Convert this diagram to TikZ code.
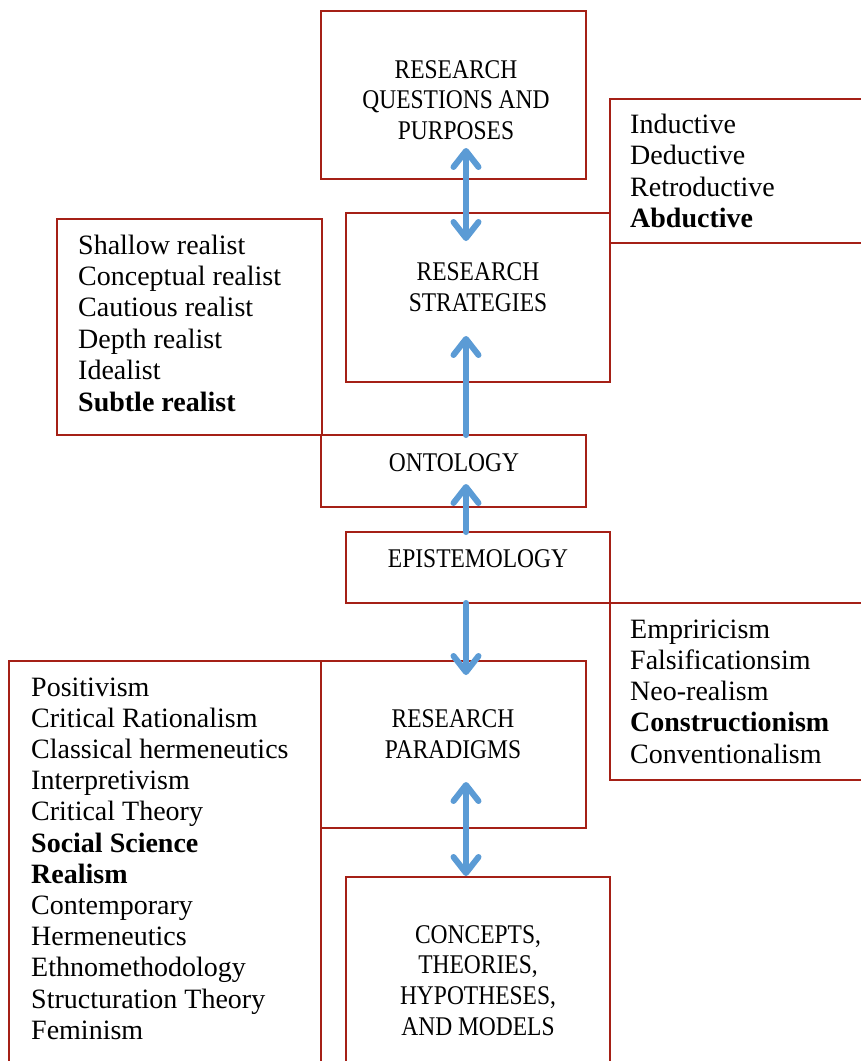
\documentclass[tikz,border=0pt]{standalone}
\usepackage{fontspec}
\setmainfont{Liberation Serif}
\newfontfamily\headfont[FakeStretch=0.87]{Liberation Serif}
\usetikzlibrary{arrows.meta}
\definecolor{boxred}{RGB}{165,32,22}
\definecolor{arrowblue}{RGB}{91,155,213}

\begin{document}
\begin{tikzpicture}[x=1pt,y=-1pt,
  box/.style={draw=boxred, line width=1.3pt, inner sep=0pt, outer sep=0pt, anchor=north west},
  head/.style={inner sep=0pt, anchor=base, font=\headfont\fontsize{27}{31}\selectfont},
  item/.style={inner sep=0pt, anchor=base west, font=\fontsize{28}{31}\selectfont},
  barb/.tip={Straight Barb[length=16pt, width=25pt, line cap=round, line join=round]},
  link/.style={line width=6pt, draw=arrowblue, line cap=round},
  oneway/.style={link, -barb},
  twoway/.style={link, barb-barb}]
\useasboundingbox (0,0) rectangle (861,1061);
\clip (0,0) rectangle (861,1061);

% boxes
\node[box, minimum width=265pt, minimum height=168pt] (rqp) at (321,11) {};
\node[box, minimum width=265pt, minimum height=144pt] (ind) at (610,99) {};
\node[box, minimum width=264pt, minimum height=169pt] (rs) at (346,213) {};
\node[box, minimum width=265pt, minimum height=216pt] (sr) at (57,219) {};
\node[box, minimum width=265pt, minimum height=72pt] (ont) at (321,435) {};
\node[box, minimum width=264pt, minimum height=71pt] (epi) at (346,532) {};
\node[box, minimum width=265pt, minimum height=177pt] (emp) at (610,603) {};
\node[box, minimum width=265pt, minimum height=167pt] (rp) at (321,661) {};
\node[box, minimum width=312pt, minimum height=420pt] (pos) at (9,661) {};
\node[box, minimum width=264pt, minimum height=200pt] (cth) at (346,877) {};

% headings
\foreach \t [count=\i from 0] in {RESEARCH, QUESTIONS AND, PURPOSES}
  \node[head] (rqp-\i) at (456,78+30.5*\i) {\t};
\foreach \t [count=\i from 0] in {RESEARCH, STRATEGIES}
  \node[head] (rs-\i) at (478,280+31*\i) {\t};
\node[head] (ont-0) at (454,471) {ONTOLOGY};
\node[head] (epi-0) at (478,567) {EPISTEMOLOGY};
\foreach \t [count=\i from 0] in {RESEARCH, PARADIGMS}
  \node[head] (rp-\i) at (453,727+31*\i) {\t};
\foreach \t [count=\i from 0] in {CONCEPTS{,}, THEORIES{,}, HYPOTHESES{,}, AND MODELS}
  \node[head] (cth-\i) at (478,943+30.7*\i) {\t};

% lists
\foreach \t [count=\i from 0] in {Inductive, Deductive, Retroductive, \textbf{Abductive}}
  \node[item] (ind-\i) at (630,133+31.6*\i) {\t};
\foreach \t [count=\i from 0] in {Shallow realist, Conceptual realist, Cautious realist,
    Depth realist, Idealist, \textbf{Subtle realist}}
  \node[item] (sr-\i) at (78,254+31.4*\i) {\t};
\foreach \t [count=\i from 0] in {Empriricism, Falsificationsim, Neo-realism,
    \textbf{Constructionism}, Conventionalism}
  \node[item] (emp-\i) at (630,638+31.25*\i) {\t};
\foreach \t [count=\i from 0] in {Positivism, Critical Rationalism, Classical hermeneutics,
    Interpretivism, Critical Theory, \textbf{Social Science}, \textbf{Realism},
    Contemporary, Hermeneutics, Ethnomethodology, Structuration Theory, Feminism}
  \node[item] (pos-\i) at (31,696+31.2*\i) {\t};

% arrow ends
\coordinate (a1top) at (466,148);
\coordinate (a1bot) at (466,241);
\coordinate (a2from) at (ont.north -| a1top);
\coordinate (a2tip) at (466,336);
\coordinate (a3from) at (epi.north -| a1top);
\coordinate (a3tip) at (466,484);
\coordinate (a4from) at (epi.south -| a1top);
\coordinate (a4tip) at (466,675);
\coordinate (a5top) at (466,782);
\coordinate (a5bot) at (466,876);

% arrows
\draw[twoway] (a1top) -- (a1bot);
\draw[oneway] (a2from) -- (a2tip);
\draw[oneway] (a3from) -- (a3tip);
\draw[oneway] (a4from) -- (a4tip);
\draw[twoway] (a5top) -- (a5bot);
\end{tikzpicture}
\end{document}
